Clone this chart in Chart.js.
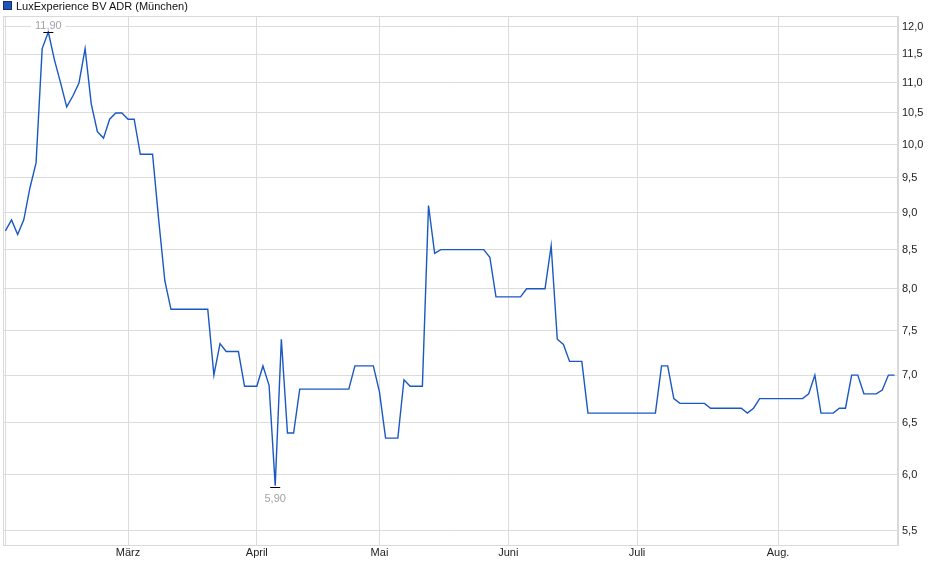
<!DOCTYPE html>
<html>
<head>
<meta charset="utf-8">
<script src="https://cdn.jsdelivr.net/npm/chart.js@4/dist/chart.umd.min.js"></script>
<style>
html,body{margin:0;padding:0;background:#fff;}
#wrap{position:relative;width:940px;height:579px;}
#legend{position:absolute;left:3px;top:0px;font:11px "Liberation Sans",Arial,sans-serif;color:#111;line-height:13px;white-space:nowrap;}
#legend span.box{display:inline-block;width:7px;height:7px;background:#1d56b8;border:1px solid #1a2f66;margin-right:4px;vertical-align:-0px;}
</style>
</head>
<body>
<div id="wrap">
<div id="legend"><span class="box"></span>LuxExperience BV ADR (München)</div>
<canvas id="c"></canvas>
</div>
<script>
// Trading-day closing prices (Feb–Aug), one value per trading day
const prices = [
  8.75, 8.9, 8.7, 8.9, 9.35, 9.72, 11.6, 11.9, 11.4, 11.0,
  10.6, 10.78, 11.0, 11.6, 10.65, 10.2, 10.1, 10.4, 10.5, 10.5,
  10.4, 10.4, 9.85, 9.85, 9.85, 8.9, 8.1, 7.75, 7.75, 7.75,
  7.75, 7.75, 7.75, 7.75, 7.0, 7.35, 7.26, 7.26, 7.26, 6.88,
  6.88, 6.88, 7.1, 6.89, 5.9, 7.4, 6.4, 6.4, 6.85, 6.85,
  6.85, 6.85, 6.85, 6.85, 6.85, 6.85, 6.85, 7.1, 7.1, 7.1,
  7.1, 6.82, 6.35, 6.35, 6.35, 6.95, 6.88, 6.88, 6.88, 9.1,
  8.45, 8.5, 8.5, 8.5, 8.5, 8.5, 8.5, 8.5, 8.5, 8.4,
  7.9, 7.9, 7.9, 7.9, 7.9, 8.0, 8.0, 8.0, 8.0, 8.55,
  7.4, 7.34, 7.15, 7.15, 7.15, 6.6, 6.6, 6.6, 6.6, 6.6,
  6.6, 6.6, 6.6, 6.6, 6.6, 6.6, 6.6, 7.1, 7.1, 6.75,
  6.7, 6.7, 6.7, 6.7, 6.7, 6.65, 6.65, 6.65, 6.65, 6.65,
  6.65, 6.6, 6.65, 6.75, 6.75, 6.75, 6.75, 6.75, 6.75, 6.75,
  6.75, 6.8, 7.0, 6.6, 6.6, 6.6, 6.65, 6.65, 7.0, 7.0,
  6.8, 6.8, 6.8, 6.84, 7.0, 7.0
];
// Month start positions (trading-day index) and labels
const monthTickIndex = [0, 20, 41, 61, 82, 103, 126];
const monthLabels = ['', 'März', 'April', 'Mai', 'Juni', 'Juli', 'Aug.'];
// Price axis tick values
const yTicks = [5.5, 6.0, 6.5, 7.0, 7.5, 8.0, 8.5, 9.0, 9.5, 10.0, 10.5, 11.0, 11.5, 12.0];

const points = prices.map((v, i) => ({x: i, y: v}));
const fmt = v => v.toFixed(2).replace('.', ',');

const frame = {
  id: 'frame',
  beforeDatasetsDraw(chart) {
    const {ctx, chartArea: a} = chart;
    ctx.save();
    ctx.strokeStyle = '#d9d9d9';
    ctx.lineWidth = 1;
    ctx.strokeRect(Math.round(a.left) + 0.5, Math.round(a.top) + 0.5, Math.round(a.right - a.left) - 1, Math.round(a.bottom - a.top));
    ctx.restore();
  }
};

const extremes = {
  id: 'extremes',
  afterDatasetsDraw(chart) {
    const {ctx} = chart;
    const xs = chart.scales.x, ys = chart.scales.y;
    let hi = 0, lo = 0;
    prices.forEach((v, i) => { if (v > prices[hi]) hi = i; if (v < prices[lo]) lo = i; });
    ctx.save();
    ctx.font = '11px "Liberation Sans", Arial, sans-serif';
    ctx.textAlign = 'center';
    // high
    let px = xs.getPixelForValue(hi), py = Math.round(ys.getPixelForValue(prices[hi])) + 0.5;
    let t = fmt(prices[hi]);
    let w = ctx.measureText(t).width;
    ctx.fillStyle = '#ffffff';
    ctx.fillRect(px - w / 2 - 4, py - 15, w + 8, 13);
    ctx.fillStyle = '#a3a3a8';
    ctx.fillText(t, px, py - 4);
    ctx.strokeStyle = '#000';
    ctx.lineWidth = 1;
    ctx.beginPath(); ctx.moveTo(px - 5, py); ctx.lineTo(px + 5, py); ctx.stroke();
    // low
    px = xs.getPixelForValue(lo); py = Math.round(ys.getPixelForValue(prices[lo])) + 1.5;
    t = fmt(prices[lo]);
    ctx.beginPath(); ctx.moveTo(px - 5, py); ctx.lineTo(px + 5, py); ctx.stroke();
    ctx.fillStyle = '#a3a3a8';
    ctx.fillText(t, px, py + 14);
    ctx.restore();
  }
};

new Chart(document.getElementById('c'), {
  type: 'line',
  data: {
    datasets: [{
      data: points,
      borderColor: '#1a58c2',
      borderWidth: 1.4,
      pointRadius: 0,
      tension: 0,
      fill: false
    }]
  },
  options: {
    responsive: true,
    maintainAspectRatio: false,
    animation: false,
    layout: {padding: {left: 3, top: 16, right: 0, bottom: 0}},
    plugins: {legend: {display: false}, tooltip: {enabled: false}},
    scales: {
      x: {
        type: 'linear',
        min: -0.39,
        max: 145.56,
        afterBuildTicks(s) { s.ticks = monthTickIndex.map(v => ({value: v})); },
        afterFit(s) { s.height = 34; },
        ticks: {
          autoSkip: false,
          maxRotation: 0,
          padding: 1,
          color: '#222',
          font: {family: '"Liberation Sans", Arial, sans-serif', size: 11},
          callback(v) { const k = monthTickIndex.indexOf(v); return k >= 0 ? monthLabels[k] : ''; }
        },
        grid: {color: '#dcdcdc', lineWidth: 1, drawTicks: false},
        border: {display: true, color: '#d9d9d9'}
      },
      y: {
        type: 'logarithmic',
        position: 'right',
        min: 5.382,
        max: 12.2,
        afterBuildTicks(s) { s.ticks = yTicks.map(v => ({value: v})); },
        afterFit(s) { s.width = 42; },
        ticks: {
          padding: 4,
          color: '#222',
          font: {family: '"Liberation Sans", Arial, sans-serif', size: 11},
          callback(v) { return Number(v).toFixed(1).replace('.', ','); }
        },
        grid: {color: '#dcdcdc', lineWidth: 1, drawTicks: false},
        border: {display: true, color: '#d9d9d9'}
      }
    }
  },
  plugins: [frame, extremes]
});
</script>
</body>
</html>
